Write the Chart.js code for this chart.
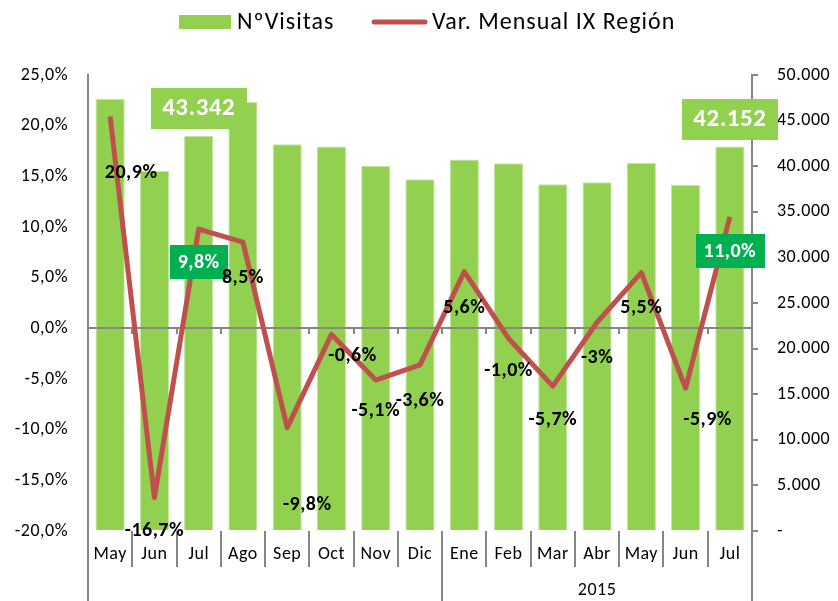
<!DOCTYPE html>
<html>
<head>
<meta charset="utf-8">
<script src="https://cdn.jsdelivr.net/npm/chart.js@4"></script>
<style>
  body { margin: 0; background: #fff; }
  #wrap { width: 838px; height: 601px; }
</style>
</head>
<body>
<div id="wrap"><canvas id="grafico" width="838" height="601"></canvas></div>
<script>
// datos
const meses = ["May", "Jun", "Jul", "Ago", "Sep", "Oct", "Nov", "Dic", "Ene", "Feb", "Mar", "Abr", "May", "Jun", "Jul"];
const visitas = [47388, 39474, 43342, 47026, 42417, 42163, 40013, 38572, 40732, 40325, 38026, 38250, 40354, 37973, 42152];
const varMensual = [20.9, -16.7, 9.8, 8.5, -9.8, -0.6, -5.1, -3.6, 5.6, -1.0, -5.7, 0.6, 5.5, -5.9, 11.0];
const varEtiquetas = ["20,9%", "-16,7%", "9,8%", "8,5%", "-9,8%", "-0,6%", "-5,1%", "-3,6%", "5,6%", "-1,0%", "-5,7%", "-3%", "5,5%", "-5,9%", "11,0%"];
const destacados = [2, 14];
const grupoAnio = "2015";
const grupoDesde = 8;

const VERDE = "#92D050";
const ROJO = "#C0504D";
const GRIS = "#868686";
const FUENTE = "Carlito, Lato, sans-serif";

// desplazamiento de cada etiqueta respecto a su punto (px)
const desplazar = [[21, 55], [0, 32], [0, 33], [0, 35], [20, 76], [21, 21], [0, 30], [0, 35],
	[0, 35], [0, 32], [0, 33], [0, 35], [0, 34], [22, 31], [0, 34]];

function miles(v) {
	if (v === 0) return "-";
	return String(v).replace(/\B(?=(\d{3})+(?!\d))/g, ".");
}

const extras = {
	id: "extras",
	beforeDraw(chart) {
		chart.ctx.letterSpacing = "0.5px";
	},
	afterDatasetDraw(chart, args) {
		if (args.index !== 0) return;
		// linea del cero con marcas
		const ctx = chart.ctx;
		const x = chart.scales.x, yL = chart.scales.yL;
		const a = chart.chartArea;
		const y0 = Math.round(yL.getPixelForValue(0));
		ctx.save();
		ctx.strokeStyle = GRIS;
		ctx.lineWidth = 2;
		ctx.beginPath();
		ctx.moveTo(a.left, y0);
		ctx.lineTo(a.right, y0);
		for (let k = 1; k < meses.length; k++) {
			const bx = Math.round((x.getPixelForValue(k - 1) + x.getPixelForValue(k)) / 2);
			ctx.moveTo(bx, y0);
			ctx.lineTo(bx, y0 + 6);
		}
		ctx.stroke();
		ctx.restore();
	},
	afterDraw(chart) {
		const ctx = chart.ctx;
		const x = chart.scales.x, yL = chart.scales.yL, yR = chart.scales.yR;
		const a = chart.chartArea;
		const H = chart.height;
		ctx.save();

		// separadores de categorias
		ctx.strokeStyle = GRIS;
		ctx.lineWidth = 2;
		ctx.beginPath();
		for (let k = 1; k < meses.length; k++) {
			const bx = Math.round((x.getPixelForValue(k - 1) + x.getPixelForValue(k)) / 2);
			ctx.moveTo(bx, a.bottom);
			ctx.lineTo(bx, k === grupoDesde ? H : a.bottom + 36);
		}
		ctx.moveTo(Math.round(a.left), a.bottom);
		ctx.lineTo(Math.round(a.left), H);
		ctx.moveTo(Math.round(a.right), a.bottom);
		ctx.lineTo(Math.round(a.right), H);
		ctx.stroke();

		// etiqueta del grupo
		ctx.fillStyle = "#000";
		ctx.font = "18px " + FUENTE;
		ctx.textAlign = "center";
		ctx.textBaseline = "middle";
		const gx = (x.getPixelForValue(grupoDesde) + x.getPixelForValue(meses.length - 1)) / 2;
		ctx.fillText(grupoAnio, gx, 590);

		// etiquetas de la linea
		ctx.font = "bold 20px " + FUENTE;
		for (let i = 0; i < varMensual.length; i++) {
			const cx = x.getPixelForValue(i) + desplazar[i][0];
			const cy = yL.getPixelForValue(varMensual[i]) + desplazar[i][1];
			if (destacados.includes(i)) {
				const w = ctx.measureText(varEtiquetas[i]).width + 16;
				ctx.fillStyle = "#00B050";
				ctx.fillRect(Math.round(cx - w / 2), Math.round(cy - 17), Math.round(w), 34);
				ctx.fillStyle = "#fff";
			} else {
				ctx.fillStyle = "#000";
			}
			ctx.fillText(varEtiquetas[i], cx, cy + 1);
		}

		// etiquetas de las barras destacadas
		ctx.font = "bold 25px " + FUENTE;
		destacados.forEach((i) => {
			const cx = x.getPixelForValue(i);
			const cy = yR.getPixelForValue(visitas[i]) - 28;
			ctx.fillStyle = VERDE;
			ctx.fillRect(Math.round(cx - 48), Math.round(cy - 20), 96, 41);
			ctx.fillStyle = "#fff";
			ctx.fillText(miles(visitas[i]), cx, cy + 1);
		});

		// leyenda
		ctx.letterSpacing = "1px";
		ctx.textAlign = "left";
		ctx.textBaseline = "alphabetic";
		ctx.font = "24px " + FUENTE;
		ctx.fillStyle = VERDE;
		ctx.fillRect(179, 15, 52, 14);
		ctx.fillStyle = "#000";
		ctx.fillText("NºVisitas", 237, 29);
		ctx.strokeStyle = ROJO;
		ctx.lineWidth = 5;
		ctx.lineCap = "round";
		ctx.beginPath();
		ctx.moveTo(374, 22);
		ctx.lineTo(425, 22);
		ctx.stroke();
		ctx.fillText("Var. Mensual IX Región", 432, 29);

		ctx.restore();
	}
};

new Chart(document.getElementById("grafico"), {
	type: "bar",
	data: {
		labels: meses,
		datasets: [
			{
				type: "bar",
				label: "NºVisitas",
				data: visitas,
				yAxisID: "yR",
				backgroundColor: VERDE,
				borderColor: "#C4E6A2",
				borderWidth: 1,
				barPercentage: 0.66,
				categoryPercentage: 1,
				order: 1
			},
			{
				type: "line",
				label: "Var. Mensual IX Región",
				data: varMensual,
				yAxisID: "yL",
				borderColor: ROJO,
				borderWidth: 5,
				pointRadius: 0,
				tension: 0,
				borderJoinStyle: "round",
				order: 0
			}
		]
	},
	options: {
		responsive: false,
		animation: false,
		devicePixelRatio: 1,
		layout: { padding: { top: 75, left: 0, right: 0, bottom: 0 } },
		plugins: { legend: { display: false }, tooltip: { enabled: false } },
		scales: {
			x: {
				grid: { display: false, drawTicks: false },
				border: { display: false },
				ticks: { color: "#000", font: { family: FUENTE, size: 18 }, padding: 13, maxRotation: 0, autoSkip: false },
				afterFit: (s) => { s.height = 70; }
			},
			yL: {
				position: "left",
				min: -20,
				max: 25,
				grid: { display: false, drawTicks: false },
				border: { display: true, color: GRIS, width: 2 },
				ticks: {
					stepSize: 5,
					color: "#000",
					padding: 20,
					font: { family: FUENTE, size: 18 },
					callback: (v) => v.toFixed(1).replace(".", ",") + "%"
				},
				afterFit: (s) => { s.width = 88; }
			},
			yR: {
				position: "right",
				min: 0,
				max: 50000,
				grid: { drawOnChartArea: false, drawTicks: true, tickLength: 6, color: GRIS, lineWidth: 2 },
				border: { display: true, color: GRIS, width: 2 },
				ticks: {
					stepSize: 5000,
					color: "#000",
					padding: 19,
					font: { family: FUENTE, size: 18 },
					callback: (v) => miles(v)
				},
				afterFit: (s) => { s.width = 86; }
			}
		}
	},
	plugins: [extras]
});
</script>
</body>
</html>
